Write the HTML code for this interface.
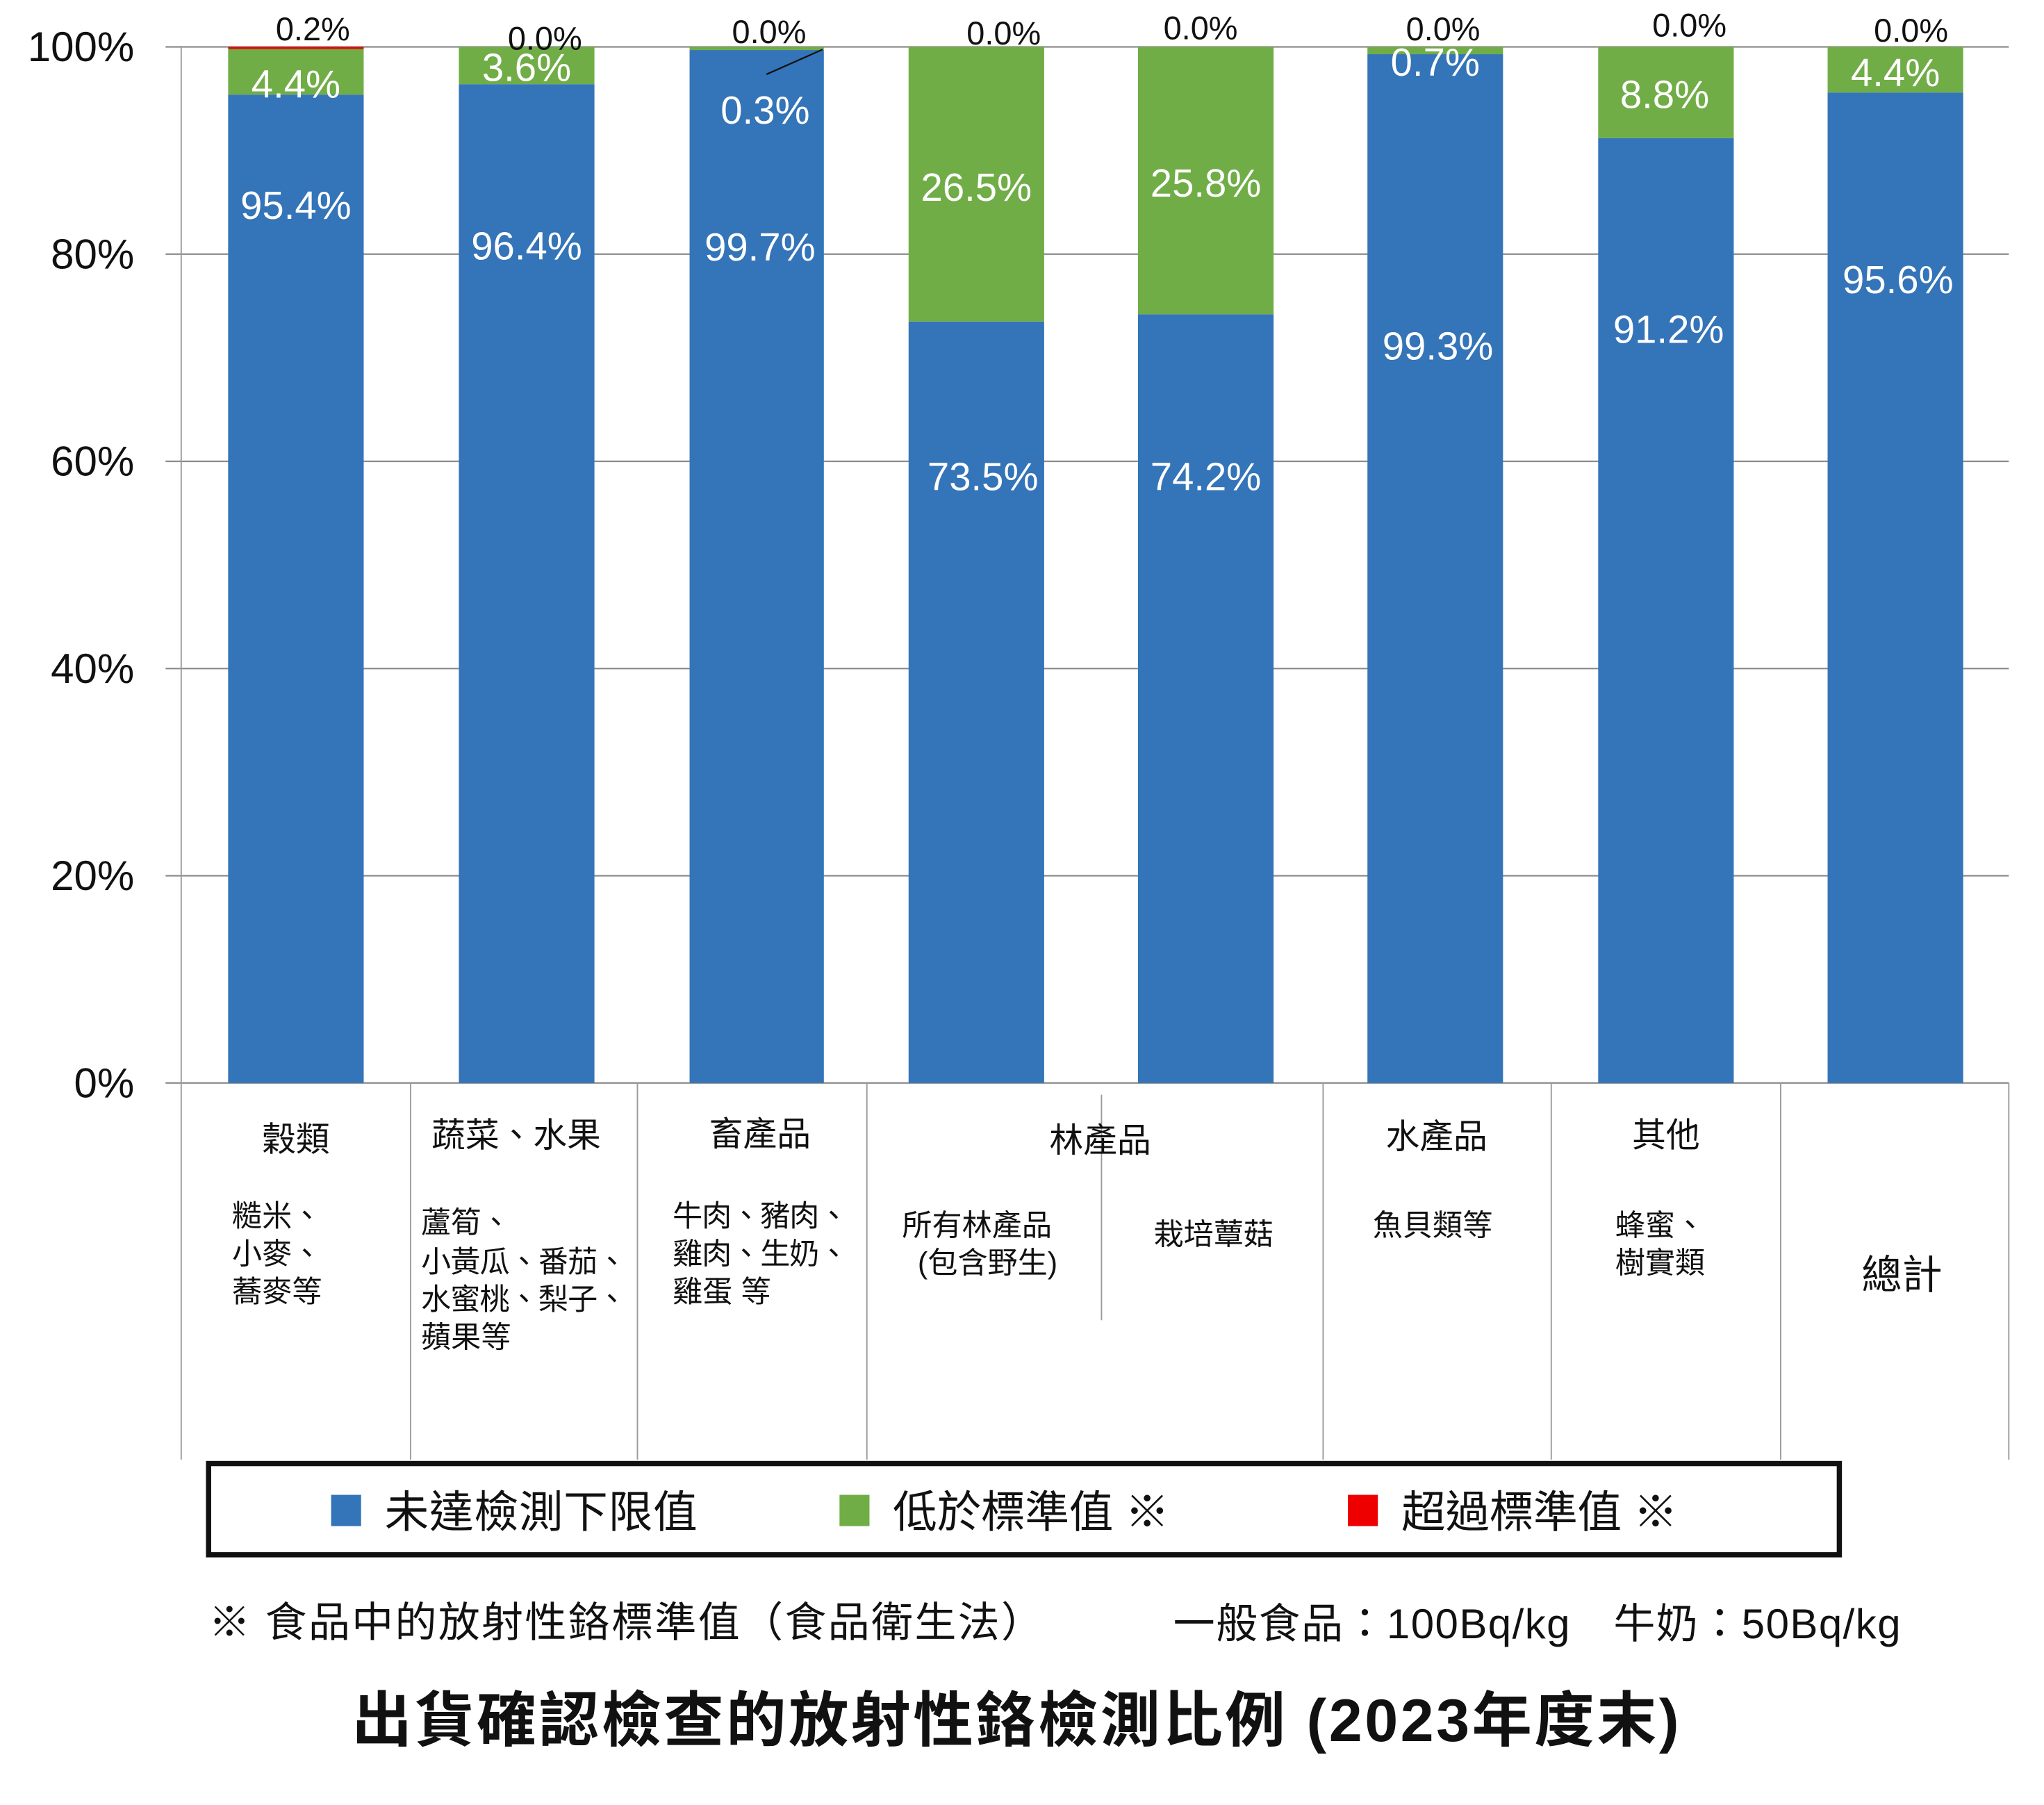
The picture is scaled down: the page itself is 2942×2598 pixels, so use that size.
<!DOCTYPE html>
<html><head><meta charset="utf-8"><style>
html,body{margin:0;padding:0;background:#fff;}
svg{display:block;}
text{font-family:"Liberation Sans","Noto Sans CJK TC",sans-serif;}
</style></head><body>
<svg width="2942" height="2598" viewBox="0 0 1568 1385" preserveAspectRatio="none" xmlns="http://www.w3.org/2000/svg">
<rect width="1568" height="1385" fill="#fff"/>
<g stroke="#8c8c8c" stroke-width="1.2">
<line x1="127" y1="36" x2="1541" y2="36"/>
<line x1="127" y1="195" x2="1541" y2="195"/>
<line x1="127" y1="354" x2="1541" y2="354"/>
<line x1="127" y1="513" x2="1541" y2="513"/>
<line x1="127" y1="672" x2="1541" y2="672"/>
<line x1="127" y1="831" x2="1541" y2="831"/>
</g>
<g stroke="#9a9a9a" stroke-width="1">
<line x1="139" y1="36" x2="139" y2="1120"/>
<line x1="315" y1="831" x2="315" y2="1120"/>
<line x1="489" y1="831" x2="489" y2="1120"/>
<line x1="665" y1="831" x2="665" y2="1120"/>
<line x1="845" y1="840" x2="845" y2="1013"/>
<line x1="1015" y1="831" x2="1015" y2="1120"/>
<line x1="1190" y1="831" x2="1190" y2="1120"/>
<line x1="1366" y1="831" x2="1366" y2="1120"/>
<line x1="1541" y1="831" x2="1541" y2="1120"/>
</g>
<g font-size="32" fill="#111" text-anchor="end">
<text x="103" y="47">100%</text>
<text x="103" y="206">80%</text>
<text x="103" y="365">60%</text>
<text x="103" y="524">40%</text>
<text x="103" y="683">20%</text>
<text x="103" y="842">0%</text>
</g>
<g>
<rect x="175" y="72.6" width="104" height="758.4" fill="#3474b8"/><rect x="175" y="37.6" width="104" height="35" fill="#70ad47"/><rect x="175" y="36" width="104" height="1.6" fill="#e00"/>
<rect x="352" y="64.6" width="104" height="766.4" fill="#3474b8"/><rect x="352" y="36" width="104" height="28.6" fill="#70ad47"/>
<rect x="529" y="38.4" width="103" height="792.6" fill="#3474b8"/><rect x="529" y="36" width="103" height="2.4" fill="#70ad47"/>
<rect x="697" y="246.7" width="104" height="584.3" fill="#3474b8"/><rect x="697" y="36" width="104" height="210.7" fill="#70ad47"/>
<rect x="873" y="241.1" width="104" height="589.9" fill="#3474b8"/><rect x="873" y="36" width="104" height="205.1" fill="#70ad47"/>
<rect x="1049" y="41.6" width="104" height="789.4" fill="#3474b8"/><rect x="1049" y="36" width="104" height="5.6" fill="#70ad47"/>
<rect x="1226" y="106" width="104" height="725" fill="#3474b8"/><rect x="1226" y="36" width="104" height="70" fill="#70ad47"/>
<rect x="1402" y="71" width="104" height="760" fill="#3474b8"/><rect x="1402" y="36" width="104" height="35" fill="#70ad47"/>
</g>
<line x1="588" y1="57" x2="631" y2="38" stroke="#111" stroke-width="1.2"/>
<g font-size="30" fill="#fff" text-anchor="middle">
<text x="227" y="168">95.4%</text><text x="227" y="75">4.4%</text>
<text x="404" y="199">96.4%</text><text x="404" y="62">3.6%</text>
<text x="583" y="200">99.7%</text><text x="587" y="95">0.3%</text>
<text x="754" y="376">73.5%</text><text x="749" y="154">26.5%</text>
<text x="925" y="376">74.2%</text><text x="925" y="151">25.8%</text>
<text x="1103" y="276">99.3%</text><text x="1101" y="58">0.7%</text>
<text x="1280" y="263">91.2%</text><text x="1277" y="83">8.8%</text>
<text x="1456" y="225">95.6%</text><text x="1454" y="66">4.4%</text>
</g>
<g font-size="25" fill="#111" text-anchor="middle">
<text x="240" y="31">0.2%</text>
<text x="418" y="38">0.0%</text>
<text x="590" y="33">0.0%</text>
<text x="770" y="34">0.0%</text>
<text x="921" y="30">0.0%</text>
<text x="1107" y="31">0.0%</text>
<text x="1296" y="28">0.0%</text>
<text x="1466" y="32">0.0%</text>
</g>
<g font-size="26" fill="#111" text-anchor="middle">
<text x="227" y="883">穀類</text>
<text x="396" y="880">蔬菜、水果</text>
<text x="583" y="879">畜產品</text>
<text x="844" y="884">林產品</text>
<text x="1102" y="881">水產品</text>
<text x="1278" y="880">其他</text>
<text x="1459" y="989" font-size="31">總計</text>
</g>
<g font-size="23" fill="#111">
<text x="178" y="941">糙米、</text><text x="178" y="970">小麥、</text><text x="178" y="999">蕎麥等</text>
<text x="323" y="946">蘆筍、</text><text x="323" y="976" textLength="158">小黃瓜、番茄、</text><text x="323" y="1005" textLength="158">水蜜桃、梨子、</text><text x="323" y="1034">蘋果等</text>
<text x="516" y="941" textLength="135">牛肉、豬肉、</text><text x="516" y="970" textLength="135">雞肉、生奶、</text><text x="516" y="999">雞蛋 等</text>
<text x="692" y="948">所有林產品</text><text x="704" y="977">(包含野生)</text>
<text x="885" y="955">栽培蕈菇</text>
<text x="1053" y="948">魚貝類等</text>
<text x="1239" y="948">蜂蜜、</text><text x="1239" y="977">樹實類</text>
</g>
<rect x="160" y="1123" width="1251" height="70" fill="#fff" stroke="#111" stroke-width="4"/>
<g font-size="34" fill="#111">
<rect x="254" y="1147" width="23" height="24" fill="#3474b8"/><text x="295" y="1172" textLength="240">未達檢測下限值</text>
<rect x="644" y="1147" width="23" height="24" fill="#70ad47"/><text x="685" y="1172" textLength="212">低於標準值 ※</text>
<rect x="1034" y="1147" width="23" height="24" fill="#ee0000"/><text x="1075" y="1172" textLength="212">超過標準值 ※</text>
</g>
<g font-size="32" fill="#111">
<text x="160" y="1256" textLength="640">※ 食品中的放射性鉻標準值（食品衛生法）</text>
<text x="900" y="1257" textLength="558">一般食品：100Bq/kg　牛奶：50Bq/kg</text>
</g>
<text x="270" y="1336" font-size="46" font-weight="bold" fill="#111" textLength="1018">出貨確認檢查的放射性鉻檢測比例 (2023年度末)</text>
</svg>
</body></html>
